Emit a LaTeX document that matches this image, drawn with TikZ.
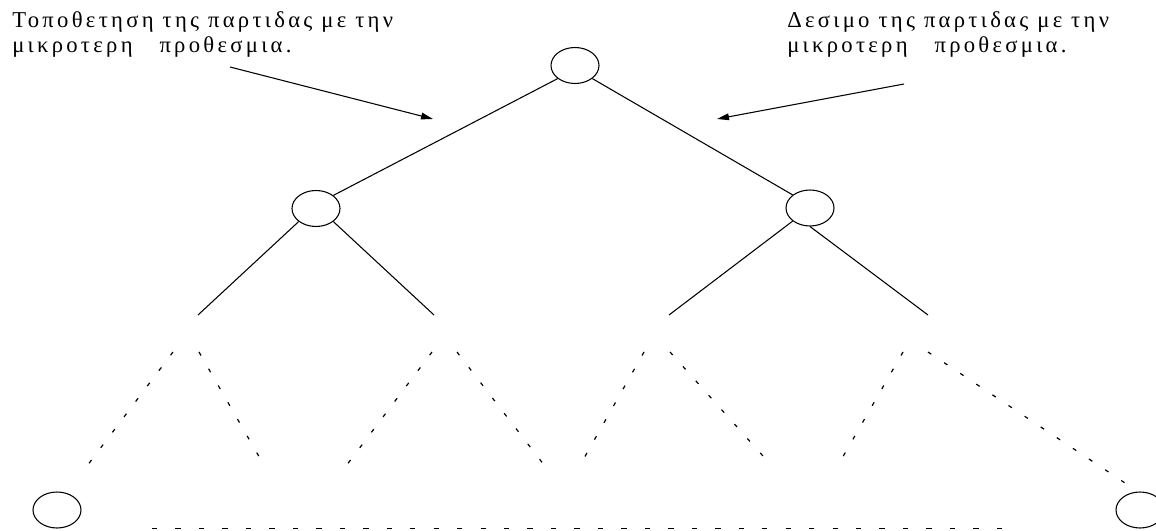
\documentclass[tikz,border=0pt]{standalone}
\usepackage{fontspec}
\setmainfont{Liberation Serif}
\newfontfamily\lblfont[LetterSpace=14.5]{Liberation Serif}
\usetikzlibrary{shapes.geometric,arrows.meta}
\begin{document}
\begin{tikzpicture}[x=0.75pt,y=-0.75pt,
  treenode/.style={draw, ellipse, minimum width=36pt, minimum height=27pt, inner sep=0pt, line width=0.8pt},
  edge/.style={line width=0.8pt},
  dotline/.style={line width=0.9pt, dash pattern=on 3pt off 11.5pt},
  dashline/.style={line width=0.75pt, dash pattern=on 4pt off 13.6pt},
  pointer/.style={line width=0.8pt, -{Triangle[length=9pt,width=5pt]}},
  lbl/.style={anchor=base west, inner sep=0pt, font=\lblfont\fontsize{17}{19}\selectfont}]
\useasboundingbox (0,0) rectangle (1156,531);
% tree nodes
\node[treenode] (root) at (575,65.5) {};
\node[treenode] (lc) at (316,208.5) {};
\node[treenode] (rc) at (810,208) {};
\node[treenode] (bl) at (57,510) {};
\node[treenode] (br) at (1140,510) {};
% texts
\node[lbl] (tl1) at (12,28) {Τοποθετηση της παρτιδας με την};
\node[lbl] (tl2) at (12,53) {μικροτερη~~~προθεσμια.};
\node[lbl] (tr1) at (787,28) {Δεσιμο της παρτιδας με την};
\node[lbl] (tr2) at (787,53) {μικροτερη~~~προθεσμια.};
% free ends
\coordinate (lcl) at (198,315);
\coordinate (lcr) at (434,315);
\coordinate (rcl) at (669,315);
\coordinate (rcr) at (928,315);
\coordinate (p1a) at (173,352); \coordinate (p1b) at (81,474);
\coordinate (p2a) at (199,352); \coordinate (p2b) at (265,467);
\coordinate (p3a) at (432,352); \coordinate (p3b) at (340,474);
\coordinate (p4a) at (457,352); \coordinate (p4b) at (551,474);
\coordinate (p5a) at (644,352); \coordinate (p5b) at (579,467);
\coordinate (p6a) at (670,352); \coordinate (p6b) at (763,456);
\coordinate (p7a) at (903,352); \coordinate (p7b) at (837,467);
\coordinate (p8a) at (928,352); \coordinate (p8b) at (1125,483);
\coordinate (dl) at (152,528); \coordinate (dr) at (1005,528);
\coordinate (al1) at (230,67); \coordinate (al2) at (433,119);
\coordinate (ar1) at (904,84); \coordinate (ar2) at (717,119);
% edges
\draw[edge] (root.south west) -- (lc.north east);
\draw[edge] (root.south east) -- (rc.north west);
\draw[edge] (lc.south west) -- (lcl);
\draw[edge] (lc.south east) -- (lcr);
\draw[edge] (rc.south west) -- (rcl);
\draw[edge] (rc.south) -- (rcr);
% dotted
\foreach \i in {1,...,8} {\draw[dotline] (p\i a) -- (p\i b);}
\draw[dashline] (dl) -- (dr);
% arrows
\draw[pointer] (al1) -- (al2);
\draw[pointer] (ar1) -- (ar2);
\end{tikzpicture}
\end{document}
